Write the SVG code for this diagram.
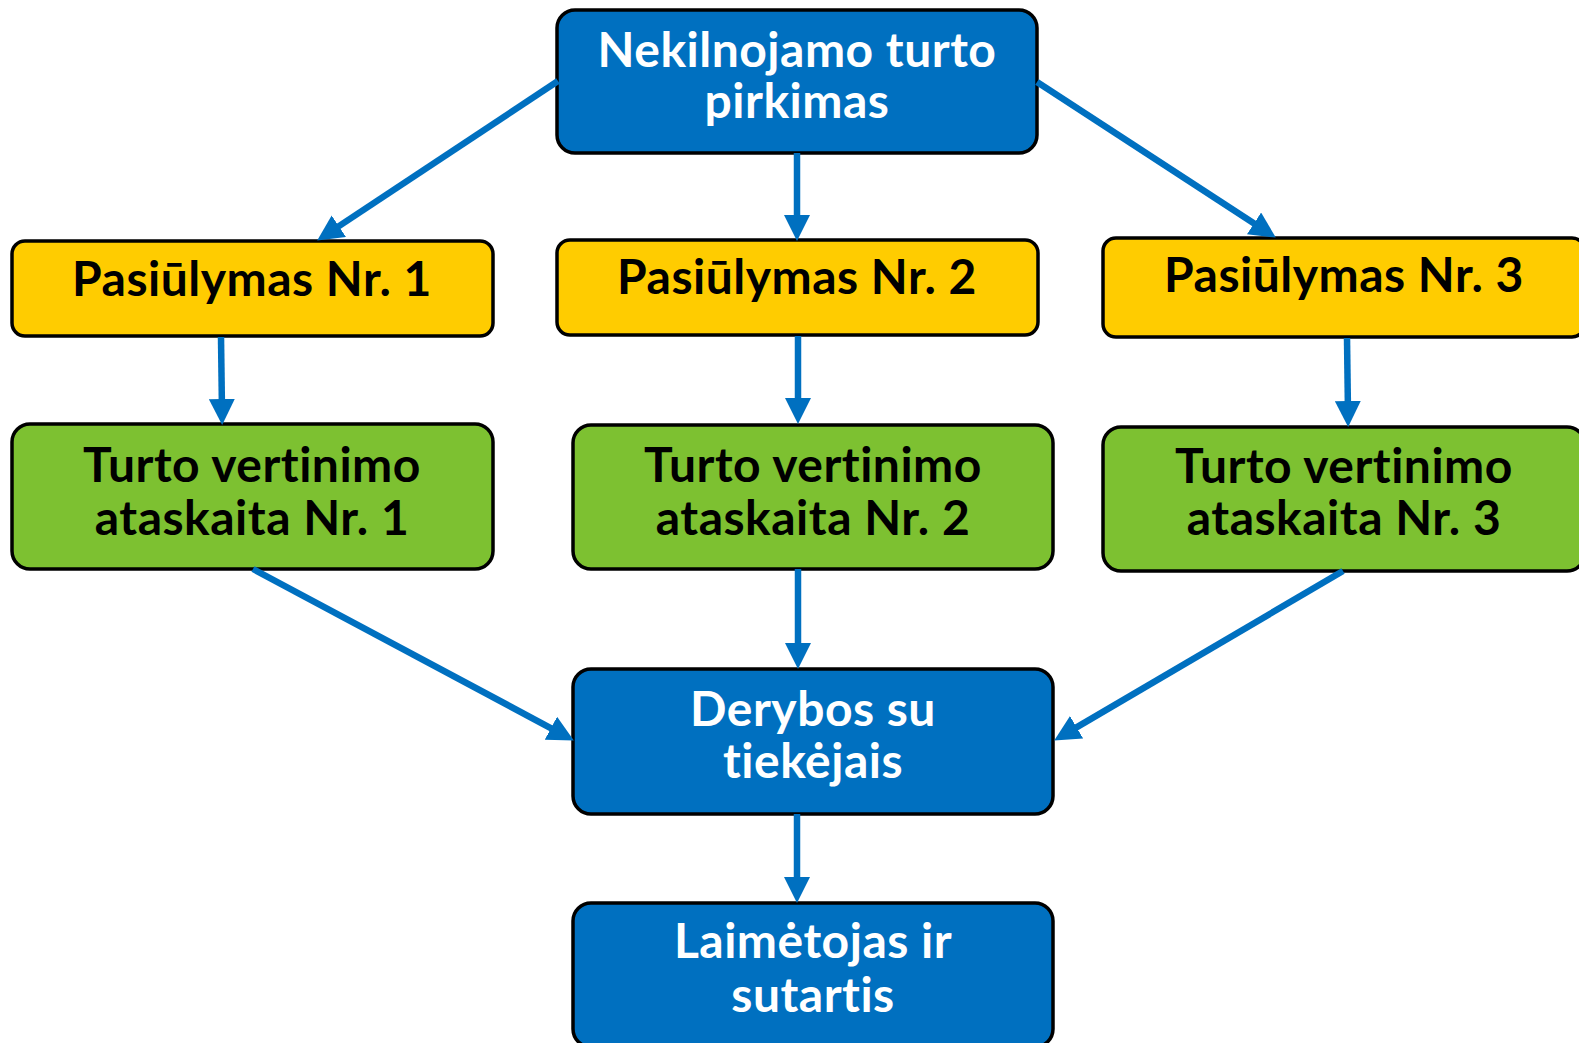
<svg xmlns="http://www.w3.org/2000/svg" width="1579" height="1043" viewBox="0 0 1579 1043">
<style>
.box{stroke:#000;stroke-width:3.5}
.blue{fill:#0070C0}
.yellow{fill:#FFCC00}
.green{fill:#7DC131}
text{font-family:Lato,"Open Sans","Liberation Sans",sans-serif;font-weight:bold;font-size:48px;letter-spacing:0.5px;text-anchor:middle;font-variant-ligatures:none;font-feature-settings:"liga" 0,"clig" 0,"dlig" 0,"calt" 0}
.w{fill:#fff}
.k{fill:#000}
.conn line{stroke:#0070C0;stroke-width:6.5;fill:none;marker-end:url(#ah)}
</style>
<defs>
<marker id="ah" markerUnits="userSpaceOnUse" markerWidth="26" markerHeight="26" refX="13" refY="13" orient="auto" viewBox="0 0 26 26">
<path d="M0,0 L26,13 L0,26 z" fill="#0070C0"/>
</marker>
</defs>
<rect width="1579" height="1043" fill="#fff"/>
<g id="n-top">
<rect class="box blue" x="557" y="10" width="480" height="143" rx="18"/>
<text class="w" x="797" y="67">Nekilnojamo turto</text>
<text class="w" x="797" y="118">pirkimas</text>
</g>
<g id="n-p1">
<rect class="box yellow" x="12" y="241" width="481" height="95" rx="13"/>
<text class="k" x="252" y="296">Pasiūlymas Nr. 1</text>
</g>
<g id="n-p2">
<rect class="box yellow" x="557" y="240" width="481" height="95" rx="13"/>
<text class="k" x="797" y="294">Pasiūlymas Nr. 2</text>
</g>
<g id="n-p3">
<rect class="box yellow" x="1103" y="238" width="482" height="99" rx="13"/>
<text class="k" x="1344" y="292">Pasiūlymas Nr. 3</text>
</g>
<g id="n-t1">
<rect class="box green" x="12" y="424" width="481" height="145" rx="18"/>
<text class="k" x="252" y="482">Turto vertinimo</text>
<text class="k" x="252" y="535">ataskaita Nr. 1</text>
</g>
<g id="n-t2">
<rect class="box green" x="573" y="425" width="480" height="144" rx="18"/>
<text class="k" x="813" y="482">Turto vertinimo</text>
<text class="k" x="813" y="535">ataskaita Nr. 2</text>
</g>
<g id="n-t3">
<rect class="box green" x="1103" y="427" width="482" height="144" rx="18"/>
<text class="k" x="1344" y="483">Turto vertinimo</text>
<text class="k" x="1344" y="535">ataskaita Nr. 3</text>
</g>
<g id="n-derybos">
<rect class="box blue" x="573" y="669" width="480" height="145" rx="18"/>
<text class="w" x="813" y="726">Derybos su</text>
<text class="w" x="813" y="778">tiekėjais</text>
</g>
<g id="n-laimetojas">
<rect class="box blue" x="573" y="903" width="480" height="144" rx="18"/>
<text class="w" x="813" y="958">Laimėtojas ir</text>
<text class="w" x="813" y="1012">sutartis</text>
</g>
<g id="connectors" class="conn">
<line x1="558" y1="81" x2="328" y2="233.4"/>
<line x1="797" y1="153" x2="797" y2="228"/>
<line x1="1037" y1="82" x2="1264.9" y2="230.5"/>
<line x1="221" y1="337" x2="222" y2="412"/>
<line x1="798" y1="336" x2="798" y2="411"/>
<line x1="1347" y1="338" x2="1348" y2="414"/>
<line x1="253" y1="569" x2="562.4" y2="734.3"/>
<line x1="798" y1="569" x2="798" y2="656"/>
<line x1="1343" y1="571" x2="1065.4" y2="733.9"/>
<line x1="797" y1="814" x2="797" y2="890"/>
</g>
</svg>
